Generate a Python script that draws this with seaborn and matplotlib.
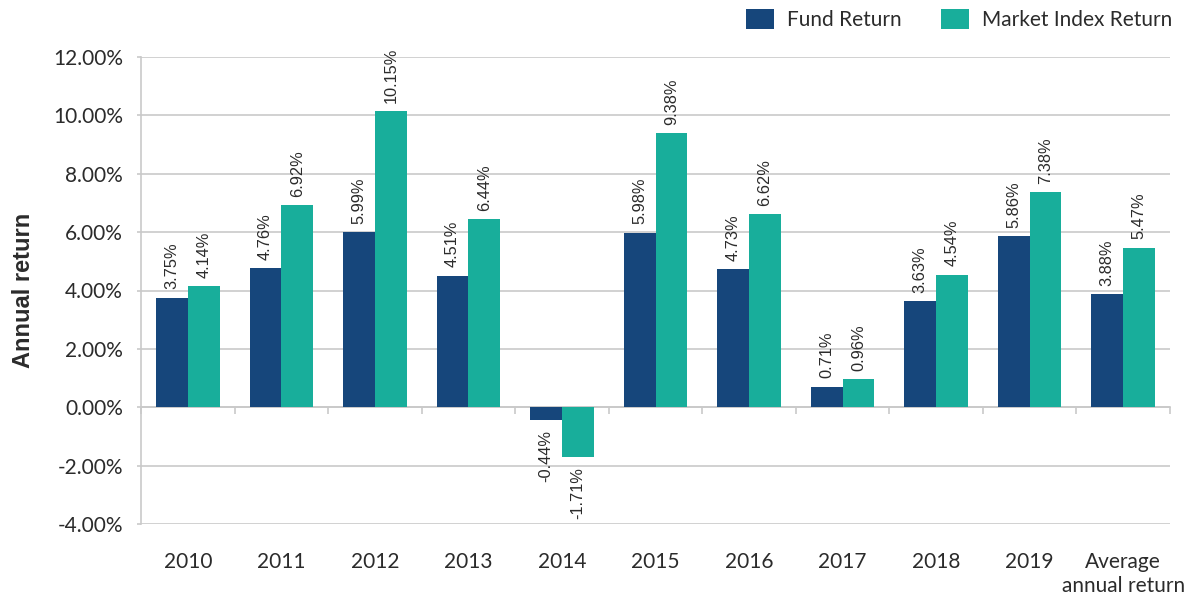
import matplotlib
matplotlib.use("Agg")
import matplotlib.pyplot as plt
import seaborn as sns
import pandas as pd
import numpy as np

categories = ["2010", "2011", "2012", "2013", "2014", "2015", "2016", "2017", "2018", "2019", "Average\nannual return"]
fund_return = [3.75, 4.76, 5.99, 4.51, -0.44, 5.98, 4.73, 0.71, 3.63, 5.86, 3.88]
market_return = [4.14, 6.92, 10.15, 6.44, -1.71, 9.38, 6.62, 0.96, 4.54, 7.38, 5.47]
series_names = ["Fund Return", "Market Index Return"]
y_ticks = [-4, -2, 0, 2, 4, 6, 8, 10, 12]

NAVY = "#16467b"
TEAL = "#18ae9b"
GRID = "#c9c9c9"
TEXT = "#2b2b2b"

df = pd.DataFrame({
    "category": categories * 2,
    "value": fund_return + market_return,
    "series": [series_names[0]] * len(categories) + [series_names[1]] * len(categories),
})

sns.set_theme(style="white")
plt.rcParams["font.family"] = ["Lato", "DejaVu Sans"]

fig = plt.figure(figsize=(11.89, 5.93), dpi=100)
ax = fig.add_axes([141 / 1189, 1 - 524 / 593, (1170 - 141) / 1189, (524 - 57) / 593])

sns.barplot(data=df, x="category", y="value", hue="series", order=categories,
            hue_order=series_names, palette=[NAVY, TEAL], width=0.68, gap=0,
            saturation=1, ax=ax, errorbar=None, legend=True, linewidth=0)

ax.set_ylim(-4, 12)
ax.set_xlim(-0.5, len(categories) - 0.5)
ax.set_yticks(y_ticks)
ax.set_yticklabels([f"{t:.2f}%" for t in y_ticks], fontsize=15, color=TEXT)
ax.yaxis.grid(True, color=GRID, linewidth=1.2)
ax.set_axisbelow(True)
for s in ["top", "right", "bottom"]:
    ax.spines[s].set_visible(False)
ax.spines["left"].set_color(GRID)
ax.spines["left"].set_linewidth(1.2)
ax.tick_params(axis="y", which="major", length=3, color=GRID, width=1.2, pad=10, left=True)
ax.tick_params(axis="x", length=0, pad=20.5, labelsize=15, colors=TEXT)
ax.set_xlabel("")
ax.set_ylabel("Annual return", fontsize=17, fontweight="bold", color=TEXT, labelpad=13,
              family=["Liberation Sans", "DejaVu Sans"])

# zero line with boundary tick marks
sec = ax.secondary_xaxis(0.25)
sec.set_xticks(np.arange(-0.5, len(categories) - 0.5 + 0.01, 1.0))
sec.set_xticklabels([])
sec.spines["bottom"].set_color(GRID)
sec.spines["bottom"].set_linewidth(1.2)
sec.tick_params(axis="x", length=5, color=GRID, width=1.2, direction="out")

# data labels
for container in ax.containers:
    for bar in container:
        h = bar.get_height()
        x = bar.get_x() + bar.get_width() / 2
        if h >= 0:
            ax.annotate(f"{h:.2f}%", (x, h), xytext=(0, 6), textcoords="offset points",
                        rotation=90, ha="center", va="bottom", fontsize=11.8,
                        color=TEXT, family=["Liberation Sans", "DejaVu Sans"])
        else:
            ax.annotate(f"{h:.2f}%", (x, h), xytext=(0, -7), textcoords="offset points",
                        rotation=90, ha="center", va="top", fontsize=11.8,
                        color=TEXT, family=["Liberation Sans", "DejaVu Sans"])

handles, labels = ax.get_legend_handles_labels()
ax.legend(handles, labels, loc="upper right", bbox_to_anchor=(1172 / 1189, 1 - 9 / 593),
          bbox_transform=fig.transFigure, ncol=2, borderaxespad=0, borderpad=0,
          frameon=False, fontsize=15, handlelength=1.35, handleheight=1.1,
          handletextpad=0.63, columnspacing=1.87, labelcolor=TEXT)

fig.savefig("out.png", dpi=100)
